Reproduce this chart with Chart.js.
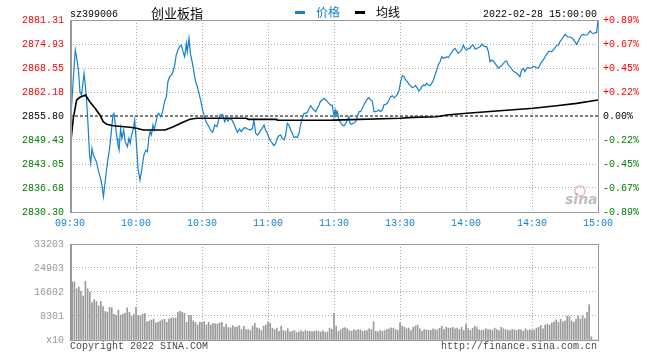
<!DOCTYPE html>
<html><head><meta charset="utf-8">
<script src="https://cdn.jsdelivr.net/npm/chart.js@4/dist/chart.umd.min.js"></script>
<style>
html,body{margin:0;padding:0;background:#fff;}
#wrap{position:relative;width:660px;height:360px;background:#fff;}
#c1{position:absolute;left:0;top:0;}
#c2{position:absolute;left:0;top:232px;}
</style></head><body>
<div id="wrap"><canvas id="c1" width="660" height="232"></canvas><canvas id="c2" width="660" height="128"></canvas></div>
<script>
// ---------- data ----------
const code = 'sz399006';
const title = '创业板指';
const seriesNames = ['价格', '均线'];
const stamp = '2022-02-28 15:00:00';
const prevClose = 2855.80;
const priceTicks = [2830.30, 2836.68, 2843.05, 2849.43, 2855.80, 2862.18, 2868.55, 2874.93, 2881.31];
const pctLabels = ['-0.89%','-0.67%','-0.45%','-0.22%','0.00%','+0.22%','+0.45%','+0.67%','+0.89%'];
const timeTicks = [0,30,60,90,120,150,180,210,240];
const timeLabels = ['09:30','10:00','10:30','11:00','11:30','13:30','14:00','14:30','15:00'];
const volTicks = [0, 8301, 16602, 24903, 33203];
const volLabels = ['x10','8301','16602','24903','33203'];

// [minutes since 09:30 (trading time), price]
const priceSeries = [
[0,2851.64],[1.4,2864.92],[2.4,2873.34],[3.3,2870.24],[3.9,2867.58],[4.5,2862.27],[5.2,2861.38],[6.4,2867.14],[7.4,2861.38],[8.2,2853.41],
[8.9,2845.44],[9.4,2843.22],[10,2847.21],[10.6,2845.44],[12,2843.67],[13,2841.01],[13.9,2839.24],[14.5,2837.47],[15.2,2834.37],[15.8,2837.47],
[16.5,2841.01],[17.3,2844.55],[18,2847.21],[18.8,2851.64],[19.5,2856.07],[20,2856.51],[20.6,2853.41],[21.4,2849.87],[21.8,2848.09],[22.3,2846.77],
[23,2852.52],[23.6,2849.87],[24.4,2852.08],[25.1,2848.98],[26.1,2847.65],[26.8,2849.87],[27.4,2848.54],[28,2850.75],[28.8,2852.52],[29.4,2854.74],
[30.2,2848.54],[30.9,2841.90],[31.8,2838.79],[32.7,2841.90],[33.6,2845.44],[34.5,2846.77],[35.2,2846.32],[35.8,2849.87],[36.4,2851.64],[37,2850.75],
[37.7,2853.41],[38.3,2852.08],[39.1,2854.29],[39.7,2856.07],[40.3,2856.51],[41.2,2855.62],[42.1,2856.95],[43,2859.61],[43.8,2860.94],[44.5,2864.92],
[45.3,2866.25],[46.1,2866.69],[46.8,2867.58],[47.6,2869.35],[48.3,2872.01],[49.1,2873.34],[49.8,2874.22],[50.6,2874.66],[51.4,2872.89],[52.1,2871.56],
[52.9,2875.11],[53.3,2872.89],[54.1,2876.44],[54.7,2872.45],[55.5,2870.24],[56.2,2868.02],[57.1,2864.92],[57.9,2863.59],[58.6,2861.82],[59.4,2860.05],
[60.3,2857.39],[60.9,2856.07],[61.8,2854.29],[62.7,2853.41],[63.9,2852.08],[64.8,2851.46],[65.8,2853.41],[66.7,2852.97],[67.6,2854.74],[68.2,2856.07],
[69.4,2856.24],[70.3,2854.29],[71.1,2855.36],[71.8,2854.47],[72.7,2855.18],[73.6,2854.74],[74.4,2853.85],[75.3,2852.52],[76.1,2851.46],[77,2852.35],
[77.9,2851.64],[78.8,2852.52],[79.8,2852.70],[80.6,2852.35],[82.1,2852.08],[82.9,2852.52],[83.6,2854.74],[84.4,2851.20],[85.2,2850.75],[85.9,2851.20],
[86.7,2852.08],[87.4,2852.52],[88.2,2853.41],[88.9,2852.08],[89.7,2851.20],[90.5,2849.87],[91.2,2849.16],[92,2848.54],[92.7,2847.92],[93.5,2848.54],
[94.2,2849.87],[95,2850.57],[95.8,2850.75],[96.5,2849.87],[97.3,2849.43],[98,2850.75],[98.8,2853.85],[99.5,2853.41],[100.3,2852.08],[101,2851.20],
[101.8,2850.04],[102.6,2850.31],[103.3,2850.04],[104.1,2851.20],[104.8,2853.41],[105.6,2855.18],[106.4,2856.51],[107.1,2856.51],[107.9,2856.77],[108.6,2857.66],
[109.4,2858.54],[110.2,2857.84],[110.9,2857.39],[111.7,2856.95],[112.4,2857.84],[113.2,2858.72],[113.9,2859.78],[114.7,2860.05],[115.5,2860.49],[116.2,2860.05],
[117,2859.61],[117.7,2859.16],[118.5,2858.72],[119.2,2858.72],[120,2855.62],[120.5,2857.39],[120.9,2856.07],[121.5,2856.95],[122.3,2854.74],[123,2854.12],
[123.8,2853.41],[124.5,2853.14],[125.3,2853.85],[126.1,2854.74],[126.8,2855.62],[127.3,2853.85],[127.9,2853.59],[128.8,2853.85],[129.8,2854.29],[130.6,2855.62],
[131.4,2856.95],[132.1,2856.95],[132.9,2857.84],[133.6,2858.72],[134.4,2859.61],[135.2,2860.32],[135.9,2860.67],[136.7,2860.05],[137.4,2859.78],[138.2,2856.95],
[138.9,2856.95],[139.7,2857.13],[140.5,2857.39],[141.2,2856.95],[142,2857.39],[142.7,2858.72],[143.5,2858.90],[144.2,2859.16],[145,2860.05],[145.8,2860.94],
[146.5,2861.20],[147.3,2860.67],[148,2860.94],[148.8,2861.56],[149.5,2862.44],[150.3,2864.92],[151.1,2866.52],[151.8,2866.25],[152.6,2865.37],[153.3,2864.92],
[154.1,2864.22],[154.8,2863.86],[155.6,2863.33],[156.4,2863.59],[157.1,2863.86],[157.9,2863.15],[158.6,2862.44],[159.4,2862.97],[159.8,2863.59],[160.6,2864.03],
[161.4,2863.86],[162.1,2864.48],[162.9,2864.03],[163.6,2863.86],[164.4,2864.48],[165.2,2865.37],[165.9,2866.69],[166.7,2868.02],[167.4,2869.35],[168.2,2870.24],
[169,2871.56],[169.7,2871.12],[170.5,2871.30],[171.2,2871.56],[172,2871.30],[172.7,2872.01],[173.5,2872.72],[174.2,2873.34],[175,2873.77],[175.8,2873.06],
[176.5,2872.45],[177.3,2872.89],[178,2873.34],[178.8,2874.66],[179.5,2873.77],[180.3,2873.34],[181.1,2873.77],[181.8,2873.77],[182.6,2874.48],[183.3,2874.66],
[184.1,2873.60],[184.8,2873.77],[185.6,2873.95],[186.4,2874.22],[187.1,2874.93],[187.9,2874.48],[188.6,2874.22],[189.4,2874.22],[190.2,2872.89],[190.9,2870.24],
[191.7,2870.68],[192.4,2870.41],[193.2,2869.79],[193.9,2869.17],[194.7,2868.47],[195.5,2868.91],[196.2,2869.17],[197,2869.79],[197.7,2870.24],[198.5,2870.41],
[199.2,2869.35],[200,2868.91],[200.8,2868.29],[201.5,2867.76],[202.3,2867.41],[203,2867.14],[203.8,2866.69],[204.5,2866.25],[205.3,2868.02],[206.1,2868.47],
[206.8,2867.58],[207.6,2868.47],[208.3,2868.64],[209.1,2868.47],[209.8,2868.64],[210.6,2868.91],[211.4,2868.91],[212.1,2868.64],[212.9,2868.47],[213.6,2869.35],
[214.4,2870.24],[215.2,2870.68],[215.9,2871.56],[216.7,2872.18],[217.4,2872.89],[218.2,2873.06],[218.9,2872.89],[219.7,2873.34],[220.5,2873.95],[221.2,2874.48],
[222,2874.66],[222.7,2875.55],[223.5,2876.17],[224.2,2876.79],[225,2877.50],[225.8,2877.06],[226.5,2876.79],[227.3,2876.79],[228,2876.61],[228.8,2876.17],
[229.5,2875.55],[230.3,2874.84],[231.1,2875.73],[231.8,2876.61],[232.6,2877.33],[233.3,2877.50],[234.1,2877.33],[234.8,2877.33],[235.6,2877.68],[236.4,2878.39],
[237.1,2877.95],[237.9,2877.68],[238.6,2877.95],[239.4,2877.95],[240,2881.31]
];

// [minutes since 09:30, average price]
const avgSeries = [
[0,2846.77],[1.5,2855.19],[3,2860.05],[4.5,2860.77],[7,2861.38],[9,2859.60],[11.4,2857.85],[13.6,2856.07],[15.1,2854.29],[16.7,2853.59],
[19.7,2853.22],[27.3,2852.80],[30.3,2852.53],[33.3,2852.08],[43.2,2852.08],[47,2852.96],[50.8,2854.02],[54.5,2854.92],[57.6,2855.19],[80.3,2855.19],
[81,2854.92],[94,2854.92],[94.2,2854.66],[118,2854.66],[120,2854.70],[150,2855.19],[156,2855.45],[166.7,2855.61],[171.2,2856.07],[180.3,2856.52],
[189.4,2856.94],[200,2857.39],[210.6,2857.85],[221.2,2858.54],[230.3,2859.17],[240,2860.05]
];

// per-minute volume (index = minutes since 09:30), unit x10
const volume = [
21000,20100,20100,17700,18300,16800,15200,20300,17700,16600,
12900,14000,13300,11800,13300,11600,9900,9600,11300,11100,
8900,8500,10300,8500,8900,9200,11100,9600,8300,8900,
11300,8500,8300,8900,9200,6300,6600,6900,7200,5900,
6100,6600,7000,7200,6100,7200,7600,7600,7600,9600,
10000,9600,9200,6100,8500,8500,6600,6100,5200,6100,
6100,6400,5200,6100,5200,5800,5600,5500,5900,6100,
4500,5400,4300,4200,5000,4400,4600,5000,3600,4800,
3600,3600,3300,4800,5800,4200,3900,3300,4800,5200,
6300,5800,4100,3600,4100,3000,4800,3300,3000,3900,
2800,3000,3300,2600,2800,3300,2800,3300,3000,3000,
2800,3000,3200,3000,2800,3300,2600,2800,4100,3700,
9200,
4800,3000,3600,4100,4300,3900,3300,3000,3600,3300,
3600,3500,3000,3200,3300,3900,3600,6300,3000,2800,
3300,3000,3300,3600,3900,4200,4100,3600,3300,5900,
4800,4400,3900,4100,3300,4400,4800,5200,3900,3000,
3600,3500,3300,3300,3900,3600,3500,4100,4800,3600,
4400,4100,4100,4400,3900,4100,3600,4400,3300,5500,
3900,3300,4100,4800,4300,3500,3300,3500,3900,3600,
3600,3300,4100,3600,3300,4400,3900,3600,3400,3300,
3600,3500,3300,3600,3500,3000,3900,3300,3600,3400,
3500,4100,4400,5000,3900,5200,5500,5200,5900,6300,
7000,6100,7200,6300,6600,8300,8100,6600,6100,7200,
8300,7200,8300,7400,9600,12200,1100,0,0,0
];

// ---------- styles ----------
const BLUE = '#1580d0';
const RED = '#ff0000';
const GREEN = '#008000';
const GRID = '#aaaaaa';
const FRAME = '#999999';
const MONO = '"Liberation Mono", "DejaVu Sans Mono", monospace';
const CJK = '"Noto Sans CJK SC", sans-serif';

Chart.defaults.font.family = MONO;
Chart.defaults.font.size = 10;

function setTicks(arr) { return function(scale){ scale.ticks = arr.map(v => ({value: v})); }; }
function priceColor(v) {
  if (Math.abs(v - prevClose) < 0.005) return '#000000';
  return v > prevClose ? RED : GREEN;
}
function gridColor(first, last) {
  return function(ctx){
    const v = ctx.tick ? ctx.tick.value : null;
    if (v === first || v === last) return 'rgba(0,0,0,0)';
    return GRID;
  };
}

const framePlugin = {
  id: 'frame',
  afterDatasetsDraw(chart) {
    const {ctx, chartArea: a} = chart;
    const L = Math.round(a.left), R = Math.round(a.right), T = Math.round(a.top), B = Math.round(a.bottom);
    ctx.save();
    ctx.fillStyle = FRAME;
    ctx.fillRect(L, T, R - L + 1, 1);
    ctx.fillRect(L, B, R - L + 1, 1);
    ctx.fillRect(L, T, 2, B - T + 1);
    ctx.fillRect(R, T, 1, B - T + 1);
    ctx.restore();
  }
};

const headerPlugin = {
  id: 'header',
  beforeDatasetsDraw(chart) {
    const ctx = chart.ctx;
    ctx.save();
    // sina watermark
    ctx.strokeStyle = 'rgba(235,120,120,0.45)';
    ctx.lineWidth = 2;
    ctx.beginPath(); ctx.arc(580, 191, 5, 0, Math.PI * 2); ctx.stroke();
    ctx.font = 'italic bold 14px "DejaVu Sans", sans-serif';
    ctx.fillStyle = 'rgba(170,170,170,0.75)';
    ctx.textAlign = 'left';
    ctx.textBaseline = 'alphabetic';
    ctx.fillText('sina', 565, 204);
    ctx.restore();
  },
  afterDraw(chart) {
    const ctx = chart.ctx;
    ctx.save();
    ctx.textBaseline = 'alphabetic';
    ctx.textAlign = 'left';
    ctx.fillStyle = '#000';
    ctx.font = '10px ' + MONO;
    ctx.fillText(code, 70, 17);
    ctx.font = '13px ' + CJK;
    ctx.fillText(title, 151, 18);
    ctx.fillStyle = BLUE;
    ctx.fillRect(295, 11, 10, 3);
    ctx.font = '12px ' + CJK;
    ctx.fillText(seriesNames[0], 316, 17);
    ctx.fillStyle = '#000';
    ctx.fillRect(355, 11, 10, 3);
    ctx.fillText(seriesNames[1], 376, 17);
    ctx.font = '10px ' + MONO;
    ctx.textAlign = 'right';
    ctx.fillText(stamp, 597, 17);
    ctx.restore();
  }
};

const footerPlugin = {
  id: 'footer',
  afterDraw(chart) {
    const ctx = chart.ctx;
    ctx.save();
    ctx.font = '10px ' + MONO;
    ctx.fillStyle = '#4a4a4a';
    ctx.textBaseline = 'alphabetic';
    ctx.textAlign = 'left';
    ctx.fillText('Copyright 2022 SINA.COM', 70, 117);
    ctx.textAlign = 'right';
    ctx.fillText('http://finance.sina.com.cn', 597, 117);
    ctx.restore();
  }
};

const tFirst = timeTicks[0], tLast = timeTicks[timeTicks.length - 1];

// ---------- price chart ----------
new Chart(document.getElementById('c1'), {
  type: 'line',
  data: {
    datasets: [
      { label: seriesNames[1], data: avgSeries.map(p => ({x: p[0], y: p[1]})),
        borderColor: '#000', borderWidth: 1.6, pointRadius: 0, tension: 0, fill: false },
      { label: seriesNames[0], data: priceSeries.map(p => ({x: p[0], y: p[1]})),
        borderColor: BLUE, borderWidth: 1.2, pointRadius: 0, tension: 0, fill: false },
      { label: 'prev', data: [{x: tFirst, y: prevClose}, {x: tLast, y: prevClose}],
        borderColor: '#000', borderWidth: 1, borderDash: [3, 2], pointRadius: 0, fill: false }
    ]
  },
  options: {
    responsive: false, animation: false, devicePixelRatio: 1, events: [],
    layout: { padding: { top: 20, left: 0, right: 0, bottom: 0 } },
    plugins: { legend: { display: false }, tooltip: { enabled: false } },
    scales: {
      x: {
        type: 'linear', min: tFirst, max: tLast, offset: false,
        afterBuildTicks: setTicks(timeTicks),
        afterFit: s => { s.height = 20; },
        ticks: { callback: (v, i) => timeLabels[i], color: BLUE, padding: 5, autoSkip: false, maxRotation: 0,
                 font: { family: MONO, size: 10 } },
        grid: { color: gridColor(tFirst, tLast), drawTicks: false, lineWidth: 1 },
        border: { display: false, dash: [1, 2] }
      },
      y: {
        position: 'left', min: priceTicks[0], max: priceTicks[priceTicks.length - 1],
        afterBuildTicks: setTicks(priceTicks),
        afterFit: s => { s.width = 70; },
        ticks: { callback: v => v.toFixed(2), color: ctx => priceColor(ctx.tick.value), padding: 6, autoSkip: false,
                 font: { family: MONO, size: 10 } },
        grid: { color: function(ctx){ const v = ctx.tick ? ctx.tick.value : null;
                  if (v === priceTicks[0] || v === priceTicks[priceTicks.length-1] || Math.abs(v - prevClose) < 0.005) return 'rgba(0,0,0,0)';
                  return GRID; }, drawTicks: false, lineWidth: 1 },
        border: { display: false, dash: [1, 2] }
      },
      y1: {
        position: 'right', min: priceTicks[0], max: priceTicks[priceTicks.length - 1],
        afterBuildTicks: setTicks(priceTicks),
        afterFit: s => { s.width = 62; },
        ticks: { callback: (v, i) => pctLabels[i], color: ctx => priceColor(ctx.tick.value), padding: 5, autoSkip: false,
                 font: { family: MONO, size: 10 } },
        grid: { drawOnChartArea: false, drawTicks: false },
        border: { display: false }
      }
    }
  },
  plugins: [headerPlugin, framePlugin]
});

// ---------- volume chart ----------
new Chart(document.getElementById('c2'), {
  type: 'bar',
  data: {
    datasets: [{ label: 'vol', data: volume.map((v, i) => ({x: i, y: v})),
      backgroundColor: '#999999', borderWidth: 0, barThickness: 1 }]
  },
  options: {
    responsive: false, animation: false, devicePixelRatio: 1, events: [],
    layout: { padding: { top: 8, left: 0, right: 62, bottom: 0 } },
    plugins: { legend: { display: false }, tooltip: { enabled: false } },
    scales: {
      x: {
        type: 'linear', min: tFirst, max: tLast, offset: false,
        afterBuildTicks: setTicks(timeTicks),
        afterFit: s => { s.height = 20; },
        ticks: { display: false },
        grid: { color: gridColor(tFirst, tLast), drawTicks: false, lineWidth: 1, offset: false },
        border: { display: false, dash: [1, 2] }
      },
      y: {
        position: 'left', min: volTicks[0], max: volTicks[volTicks.length - 1],
        afterBuildTicks: setTicks(volTicks),
        afterFit: s => { s.width = 70; },
        ticks: { callback: (v, i) => volLabels[i], color: '#999999', padding: 6, autoSkip: false,
                 font: { family: MONO, size: 10 } },
        grid: { color: gridColor(volTicks[0], volTicks[volTicks.length - 1]), drawTicks: false, lineWidth: 1 },
        border: { display: false, dash: [1, 2] }
      }
    }
  },
  plugins: [footerPlugin, framePlugin]
});
</script>
</body></html>
